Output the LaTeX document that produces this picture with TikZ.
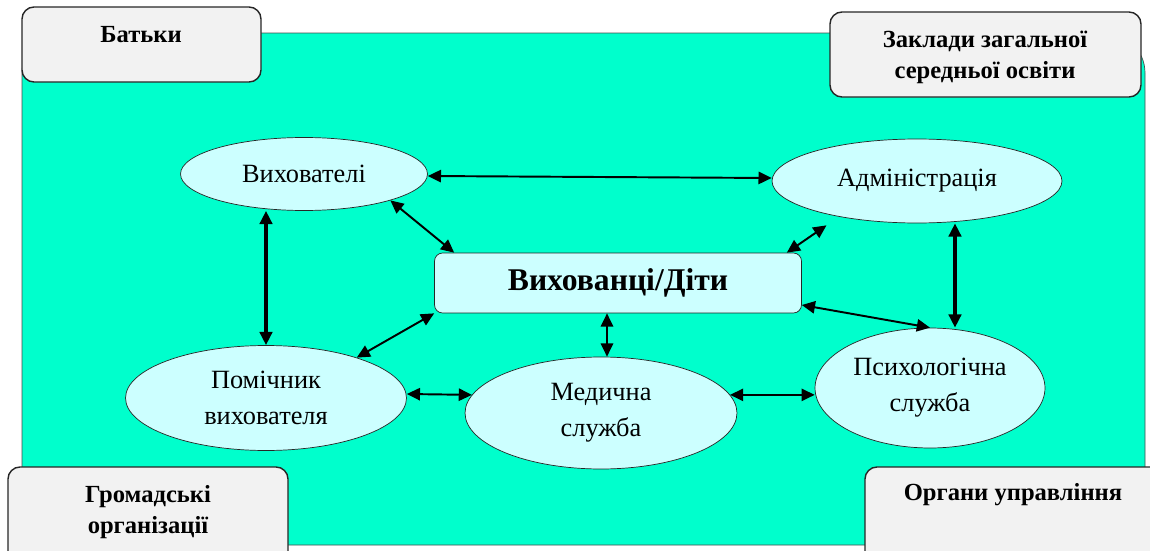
\documentclass[tikz,border=0pt]{standalone}
\usepackage{fontspec}
\setmainfont{Liberation Serif}
\usetikzlibrary{arrows.meta,shapes.geometric}

\definecolor{fieldteal}{RGB}{0,255,204}
\definecolor{ovalfill}{RGB}{204,255,255}
\definecolor{boxgray}{RGB}{242,242,242}

\tikzset{
	outerbox/.style={draw=black!85, thick, fill=boxgray, rounded corners=0.24cm},
	boxtext/.style={font=\rmfamily\fontsize{14}{17.6}\selectfont\bfseries, align=center},
	oval/.style={ellipse, draw=black!85, fill=ovalfill, inner sep=0pt, align=center,
		font=\rmfamily\fontsize{15}{20.5}\selectfont},
	link/.style={{Triangle[length=7.5pt,width=7pt]}-{Triangle[length=7.5pt,width=7pt]}, line width=1.1pt},
	biglink/.style={link, line width=2pt}
}

\begin{document}
\begin{tikzpicture}[x=0.02cm, y=-0.02cm]
	\useasboundingbox (0,0) rectangle (1150,551);
	% field
	\draw[fill=fieldteal, draw=black!70, rounded corners=0.8cm] (22,33) rectangle (1145,545);
	% outer partners
	\draw[outerbox] (22,7) rectangle (261,82);
	\node[boxtext] (bat) at (141,35) {Батьки};
	\draw[outerbox] (830,12) rectangle (1141,97);
	\node[boxtext] (zak) at (985,57) {Заклади загальної\\середньої освіти};
	\draw[outerbox] (8,467) rectangle (288,575);
	\node[boxtext] (grom) at (148,512) {Громадські\\організації};
	\draw[outerbox] (865,467) rectangle (1175,575);
	\node[boxtext] (org) at (1013,495) {Органи управління};
	% centre and ovals
	\node[draw=black!85, fill=ovalfill, rounded corners=0.16cm, minimum width=7.34cm, minimum height=1.2cm,
		font=\rmfamily\fontsize{18}{20}\selectfont\bfseries] (ctr) at (618,283) {Вихованці/Діти};
	\node[oval, minimum width=4.94cm, minimum height=1.46cm] (vyh) at (304,174) {Вихователі};
	\node[oval, minimum width=5.8cm, minimum height=1.68cm] (adm) at (917,181) {Адміністрація};
	\node[oval, minimum width=5.62cm, minimum height=2.1cm] (pom) at (266,398) {Помічник\\вихователя};
	\node[oval, minimum width=5.44cm, minimum height=2.24cm] (med) at (601,413) {Медична\\служба};
	\node[oval, minimum width=4.6cm, minimum height=2.4cm] (psy) at (930,388) {Психологічна\\служба};
	% links
	\draw[link] ([yshift=-0.04cm]vyh.east) -- ([yshift=0.06cm]adm.west);
	\draw[link] (vyh.-17) -- ([xshift=0.4cm]ctr.north west);
	\draw[link] ([xshift=-0.32cm,yshift=-0.16cm]adm.-154) -- ([xshift=-0.3cm]ctr.north east);
	\draw[biglink] (pom.north |- vyh.south) -- (pom.north);
	\draw[biglink] ([xshift=0.76cm]adm.south) -- ([xshift=0.5cm]psy.north);
	\draw[link] (pom.24) -- (ctr.south west);
	\draw[link] ([xshift=0.12cm]med.north |- ctr.south) -- ([xshift=0.12cm]med.north);
	\draw[link] ([yshift=-0.44cm]ctr.east) -- (psy.north);
	\draw[link] ([yshift=0.08cm]pom.east) -- (med.172);
	\draw[link] (med.8) -- (med.8 -| psy.west);
\end{tikzpicture}
\end{document}
